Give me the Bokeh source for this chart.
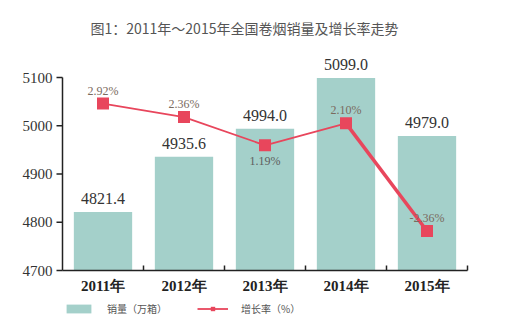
import math
from bokeh.plotting import figure
from bokeh.models import (ColumnDataSource, Range1d, Legend, LegendItem, Label)
from bokeh.core.properties import value
from bokeh.embed import file_html
from bokeh.resources import INLINE

# ---- data ----
years = ["2011年", "2012年", "2013年", "2014年", "2015年"]
sales = [4821.4, 4935.6, 4994.0, 5099.0, 4979.0]          # 万箱
growth = [2.92, 2.36, 1.19, 2.10, -2.36]                  # %
y_ticks = [4700, 4800, 4900, 5000, 5100]
g_lo, g_hi = -4.0, 4.0                                    # secondary (hidden) axis
title_text = "图1：2011年～2015年全国卷烟销量及增长率走势"
legend_sales = "销量（万箱）"
legend_growth = "增长率（%）"

# ---- layout / styles ----
W, H = 516, 328
LEFT, RIGHT, TOP, BOTTOM = 62, 49, 77, 58
BAR = "#a4d0ca"
RED = "#e8465c"
AX = "#222222"
SERIF = "Liberation Serif"
SANS = "Noto Sans CJK SC"
below_label_idx = {2}

n = len(years)
xc = [i + 0.5 for i in range(n)]
pw = (W - LEFT - RIGHT) / n
ppu = (H - TOP - BOTTOM) / (y_ticks[-1] - y_ticks[0])
ppg = (H - TOP - BOTTOM) / (g_hi - g_lo)

src = ColumnDataSource(dict(
    x=xc, sales=sales, growth=growth, year=years,
    base=[y_ticks[0]] * n,
    sales_txt=["%.1f" % v for v in sales],
    growth_txt=["%.2f%%" % v for v in growth],
))

p = figure(width=W, height=H, output_backend="svg", toolbar_location=None,
           x_axis_type=None, y_axis_type=None, min_border=0,
           x_range=Range1d(-LEFT / pw, n + RIGHT / pw),
           y_range=Range1d(y_ticks[0] - BOTTOM / ppu, y_ticks[-1] + TOP / ppu))
p.extra_y_ranges = {"g": Range1d(g_lo - BOTTOM / ppg, g_hi + TOP / ppg)}
p.outline_line_color = None
p.grid.grid_line_color = None
p.background_fill_color = "white"
p.border_fill_color = "white"

# title
p.add_layout(Label(x=90, y=H - 27, x_units="screen", y_units="screen",
                   text=title_text, text_font=SANS, text_font_size="14px",
                   text_color="#555555", text_baseline="middle"))

# bars
bars = p.vbar(x="x", top="sales", bottom=y_ticks[0], width=0.72, source=src,
              fill_color=BAR, line_color=None)
p.text(x="x", y="sales", text="sales_txt", source=src, text_align="center",
       text_baseline="bottom", y_offset=-8, text_font=value(SERIF),
       text_font_size="16px", text_color="#333333")

# axes (drawn from the data range)
p.segment(x0=[0], y0=[y_ticks[0]], x1=[0], y1=[y_ticks[-1]],
          line_color=AX, line_width=1.5)
p.segment(x0=[0], y0=[y_ticks[0]], x1=[n], y1=[y_ticks[0]],
          line_color=AX, line_width=1.5)
p.ray(x=[0] * len(y_ticks), y=y_ticks, length=6, length_units="screen",
      angle=math.pi, line_color=AX, line_width=1.5)
p.ray(x=[i + 1 for i in range(n)], y=[y_ticks[0]] * n, length=5,
      length_units="screen", angle=math.pi / 2, line_color=AX, line_width=1.5)
p.text(x=[0] * len(y_ticks), y=y_ticks, text=[str(t) for t in y_ticks],
       x_offset=-10, text_align="right", text_baseline="middle",
       text_font=value(SERIF), text_font_size="15px", text_color="#333333")
p.text(x="x", y="base", text="year", source=src, y_offset=7,
       text_align="center", text_baseline="top", text_font=value(SERIF),
       text_font_style="bold", text_font_size="15px", text_color=AX)

# growth line
line = p.line(x="x", y="growth", source=src, y_range_name="g",
              line_color=RED, line_width=1.8)
p.segment(x0=xc[-2:-1], y0=growth[-2:-1], x1=xc[-1:], y1=growth[-1:],
          y_range_name="g", line_color=RED, line_width=3.5)
pts = p.scatter(x="x", y="growth", source=src, y_range_name="g",
                marker="square", size=12, fill_color=RED, line_color=None)

above = ColumnDataSource({k: [v[i] for i in range(n) if i not in below_label_idx]
                          for k, v in src.data.items()})
below = ColumnDataSource({k: [v[i] for i in range(n) if i in below_label_idx]
                          for k, v in src.data.items()})
p.text(x="x", y="growth", text="growth_txt", source=above, y_range_name="g",
       text_align="center", text_baseline="bottom", y_offset=-6,
       text_font=value(SERIF), text_font_size="12px", text_color="#7a6a5e")
p.text(x="x", y="growth", text="growth_txt", source=below, y_range_name="g",
       text_align="center", text_baseline="top", y_offset=9,
       text_font=value(SERIF), text_font_size="12px", text_color="#5e5e5e")

legend = Legend(items=[LegendItem(label=legend_sales, renderers=[bars]),
                       LegendItem(label=legend_growth, renderers=[line, pts])],
                orientation="horizontal", location=(63, 12),
                glyph_width=31, glyph_height=11, label_standoff=13, spacing=30,
                label_text_font=SANS, label_text_font_size="10px",
                label_text_color="#555555", border_line_color=None,
                background_fill_alpha=0, padding=0, margin=0)
p.add_layout(legend, "center")

open("out.html", "w").write(file_html(p, INLINE))
